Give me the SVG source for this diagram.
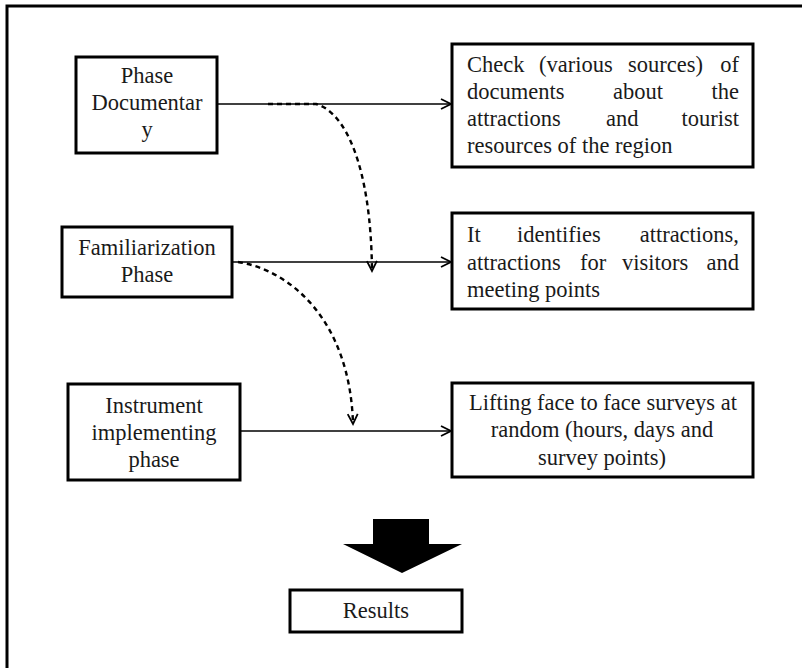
<svg xmlns="http://www.w3.org/2000/svg" width="802" height="668" viewBox="0 0 802 668">
<defs>
<style>
.box{fill:#fff;stroke:#000;stroke-width:3}
.t{font-family:"Liberation Serif","Times New Roman",serif;font-size:22.5px;fill:#1a1a1a}
.c{text-anchor:middle}
.e{text-anchor:end}
.ln{fill:none;stroke:#000;stroke-width:1.6}
.dash{fill:none;stroke:#000;stroke-width:2.4;stroke-dasharray:5 4}
</style>
<marker id="open" markerWidth="14" markerHeight="14" refX="11" refY="6" orient="auto" markerUnits="userSpaceOnUse">
<polyline points="1,1 11,6 1,11" fill="none" stroke="#000" stroke-width="1.8"/>
</marker>
</defs>
<rect width="802" height="668" fill="#fff"/>
<path d="M7 668 V6 H802" fill="none" stroke="#000" stroke-width="3"/>

<g id="connectors">
<line class="ln" x1="217" y1="104" x2="451" y2="104" marker-end="url(#open)"/>
<line class="ln" x1="232" y1="262" x2="451" y2="262" marker-end="url(#open)"/>
<line class="ln" x1="240" y1="431" x2="451" y2="431" marker-end="url(#open)"/>
<path class="dash" d="M268 104 L316 104 C345 112 371 165 372 271" marker-end="url(#open)"/>
<path class="dash" d="M238 262 C290 270 350 320 353 424" marker-end="url(#open)"/>
<polygon points="373,519 429,519 429,544 462,544 402,573 343,544 373,544" fill="#000"/>
</g>

<g id="phase-documentary">
<rect class="box" x="76" y="57" width="141" height="96"/>
<text class="t c" x="147" y="83">Phase</text>
<text class="t c" x="147" y="110">Documentar</text>
<text class="t c" x="147" y="137">y</text>
</g>

<g id="familiarization-phase">
<rect class="box" x="62" y="227" width="170" height="70"/>
<text class="t c" x="147" y="255">Familiarization</text>
<text class="t c" x="147" y="282">Phase</text>
</g>

<g id="instrument-phase">
<rect class="box" x="68" y="384" width="172" height="96"/>
<text class="t c" x="154" y="413">Instrument</text>
<text class="t c" x="154" y="440">implementing</text>
<text class="t c" x="154" y="467">phase</text>
</g>

<g id="check-documents">
<rect class="box" x="452" y="44" width="301" height="123"/>
<text class="t" y="72"><tspan x="467">Check</tspan><tspan x="539">(various</tspan><tspan x="628">sources)</tspan></text>
<text class="t e" x="739" y="72">of</text>
<text class="t" y="99"><tspan x="467">documents</tspan><tspan x="613">about</tspan></text>
<text class="t e" x="739" y="99">the</text>
<text class="t" y="126"><tspan x="467">attractions</tspan><tspan x="606">and</tspan></text>
<text class="t e" x="739" y="126">tourist</text>
<text class="t" x="467" y="153">resources of the region</text>
</g>

<g id="identifies-attractions">
<rect class="box" x="452" y="213" width="301" height="96"/>
<text class="t" y="242"><tspan x="467">It</tspan><tspan x="517">identifies</tspan></text>
<text class="t e" x="739" y="242">attractions,</text>
<text class="t" y="270"><tspan x="467">attractions</tspan><tspan x="580">for</tspan><tspan x="622">visitors</tspan></text>
<text class="t e" x="739" y="270">and</text>
<text class="t" x="467" y="297">meeting points</text>
</g>

<g id="lifting-surveys">
<rect class="box" x="452" y="383" width="301" height="94"/>
<text class="t c" x="603" y="410">Lifting face to face surveys at</text>
<text class="t c" x="602" y="437">random (hours, days and</text>
<text class="t c" x="602" y="465">survey points)</text>
</g>

<g id="results">
<rect class="box" x="290" y="590" width="172" height="42"/>
<text class="t c" x="376" y="618">Results</text>
</g>
</svg>
